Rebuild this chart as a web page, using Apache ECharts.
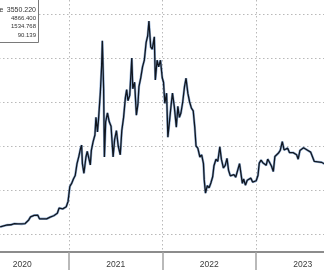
<!DOCTYPE html>
<html>
<head>
<meta charset="utf-8">
<script src="https://cdn.jsdelivr.net/npm/echarts@6/dist/echarts.min.js"></script>
<style>
html,body{margin:0;padding:0;background:#fff;}
#c{width:324px;height:270px;}
</style>
</head>
<body>
<div id="c"></div>
<script>
// ---- data ----
const dates = [
'2020-04-06','2020-04-13','2020-04-20','2020-04-27','2020-05-04','2020-05-11','2020-05-18','2020-05-25',
'2020-06-01','2020-06-08','2020-06-15','2020-06-22','2020-06-29','2020-07-06','2020-07-13','2020-07-20',
'2020-07-27','2020-08-03','2020-08-10','2020-08-17','2020-08-24','2020-08-31','2020-09-07','2020-09-14',
'2020-09-21','2020-09-28','2020-10-05','2020-10-12','2020-10-19','2020-10-26','2020-11-02','2020-11-09',
'2020-11-16','2020-11-23','2020-11-30','2020-12-07','2020-12-14','2020-12-21','2020-12-28',
'2021-01-04','2021-01-11','2021-01-18','2021-01-25','2021-02-01','2021-02-08','2021-02-15','2021-02-19',
'2021-02-22','2021-02-28','2021-03-08','2021-03-13','2021-03-22','2021-03-25','2021-03-29','2021-04-05',
'2021-04-12','2021-04-16','2021-04-22','2021-04-26','2021-05-03','2021-05-08','2021-05-11','2021-05-16',
'2021-05-19','2021-05-24','2021-05-31','2021-06-07','2021-06-14','2021-06-22','2021-06-28','2021-07-05',
'2021-07-12','2021-07-20','2021-07-26','2021-08-02','2021-08-09','2021-08-14','2021-08-19','2021-08-26',
'2021-09-03','2021-09-07','2021-09-14','2021-09-21','2021-09-27','2021-10-01','2021-10-08','2021-10-15',
'2021-10-22','2021-10-29','2021-11-04','2021-11-09','2021-11-16','2021-11-22','2021-11-30','2021-12-04',
'2021-12-11','2021-12-17','2021-12-24','2021-12-31',
'2022-01-05','2022-01-10','2022-01-17','2022-01-22','2022-01-29','2022-02-04','2022-02-09','2022-02-16',
'2022-02-24','2022-03-02','2022-03-08','2022-03-14','2022-03-21','2022-03-28','2022-04-03','2022-04-10',
'2022-04-17','2022-04-24','2022-05-01','2022-05-07','2022-05-12','2022-05-19','2022-05-27','2022-06-03',
'2022-06-10','2022-06-13','2022-06-18','2022-06-25','2022-07-02','2022-07-09','2022-07-16','2022-07-21',
'2022-07-29','2022-08-05','2022-08-13','2022-08-19','2022-08-27','2022-09-03','2022-09-10','2022-09-16',
'2022-09-23','2022-09-30','2022-10-07','2022-10-14','2022-10-21','2022-10-29','2022-11-05','2022-11-09',
'2022-11-14','2022-11-21','2022-11-28','2022-12-05','2022-12-12','2022-12-19','2022-12-26',
'2023-01-02','2023-01-09','2023-01-14','2023-01-21','2023-01-28','2023-02-04','2023-02-10','2023-02-16',
'2023-02-24','2023-03-03','2023-03-10','2023-03-16','2023-03-23','2023-03-30','2023-04-06','2023-04-14',
'2023-04-21','2023-04-28','2023-05-05','2023-05-12','2023-05-19','2023-05-26','2023-06-02','2023-06-09',
'2023-06-15','2023-06-22','2023-06-29','2023-07-06','2023-07-13','2023-07-20','2023-07-27','2023-08-03',
'2023-08-10','2023-08-17','2023-08-24','2023-08-31','2023-09-07','2023-09-14','2023-09-21','2023-09-27'
];
const prices = [
160,165,185,200,205,195,210,205,
235,240,230,235,228,240,238,265,
320,390,395,425,395,430,345,370,
345,355,345,370,385,390,415,460,
470,590,580,570,590,620,740,
1080,1150,1250,1330,1600,1760,1950,2020,
1600,1380,1750,1880,1650,1570,1900,2100,
2250,2650,2320,2600,3200,3800,4390,3300,
1750,2550,2750,2550,2450,1750,2150,2350,
2000,1800,2350,2650,3100,3280,3030,3150,
4000,3300,3450,2700,2950,3350,3550,3800,
3950,4350,4500,4840,4250,4200,4480,3500,
3950,3800,3950,3550,
3450,2970,3200,2200,2600,2950,3200,2900,
2430,2900,2650,2750,3000,3350,3540,3200,
3000,2860,2800,2430,2000,1950,1750,1800,
1600,1230,930,1100,1050,1160,1300,1550,
1700,1650,1980,1700,1500,1560,1720,1450,
1320,1340,1350,1290,1280,1600,1640,1150,
1250,1110,1220,1260,1270,1180,1210,
1210,1330,1610,1680,1620,1660,1560,1700,
1620,1540,1420,1760,1800,1840,1900,2100,
1910,1930,1950,1850,1860,1850,1880,1800,
1700,1900,1880,1960,1990,1910,1880,1860,
1850,1650,1660,1640,1620,1630,1600,1590
];
const yearLabels = ['2020','2021','2022','2023'];
const legendValues = ['3550.220','4866.400','1534.768','90.139'];
const legendFirstLabel = 'Last Price';

// ---- build ----
function fracYear(s){
  const [y,m,d] = s.split('-').map(Number);
  const t = Date.UTC(y,m-1,d), a = Date.UTC(y,0,1), b = Date.UTC(y+1,0,1);
  return y + (t-a)/(b-a);
}
const seriesData = dates.map((d,i)=>[fracYear(d), prices[i]]);

const dotted = {color:'#b9b9b9', width:1, type:[1.5,2.5]};
const chart = echarts.init(document.getElementById('c'), null, {renderer:'canvas'});
chart.setOption({
  backgroundColor:'#ffffff',
  animation:false,
  grid:[
    {left:-1, width:327, top:14, bottom:36, outerBoundsMode:'none', containLabel:false},
    {left:-24.4, width:374, top:0, bottom:18, outerBoundsMode:'none', containLabel:false},
    {left:22.3, width:374, top:0, bottom:18, outerBoundsMode:'none', containLabel:false}
  ],
  xAxis:[
    {gridIndex:0, type:'value', min:2020.25, max:2023.75, show:false},
    {gridIndex:1, type:'value', min:2020, max:2024, interval:1,
      axisLine:{show:true, lineStyle:{color:'#8c8c8c', width:2}},
      axisTick:{show:true, length:18, lineStyle:{color:'#a3a3a3', width:1.5}},
      axisLabel:{show:false},
      splitLine:{show:true, lineStyle:dotted}},
    {gridIndex:1, type:'value', min:2020, max:2024, interval:0.25,
      axisLine:{show:false},
      axisTick:{show:true, length:3, lineStyle:{color:'#8c8c8c', width:1}},
      axisLabel:{show:false}, splitLine:{show:false}},
    {gridIndex:2, type:'value', min:2020, max:2024, interval:1,
      axisLine:{show:false}, axisTick:{show:false}, splitLine:{show:false},
      axisLabel:{show:true, margin:8, fontSize:8.5, color:'#3a3a3a', fontFamily:'Liberation Sans',
        showMaxLabel:false,
        formatter:function(v){ const i = Math.round(v)-2020; return yearLabels[i] || ''; }}}
  ],
  yAxis:[
    {gridIndex:0, type:'value', min:0, max:5000, interval:1000,
      axisLine:{show:false}, axisTick:{show:false}, axisLabel:{show:false},
      splitLine:{show:true, lineStyle:dotted}},
    {gridIndex:1, type:'value', show:false},
    {gridIndex:2, type:'value', show:false}
  ],
  series:[
    {type:'line', xAxisIndex:0, yAxisIndex:0, data:seriesData, showSymbol:false, silent:true,
      lineStyle:{color:'#3a6db0', width:2.4, opacity:0.55}, z:2},
    {type:'line', xAxisIndex:0, yAxisIndex:0, data:seriesData, showSymbol:false, silent:true,
      lineStyle:{color:'#10161f', width:1.3}, z:3}
  ],
  graphic:[
    {type:'rect', shape:{x:-5, y:-5, width:43.5, height:47.5}, style:{fill:'#ffffff', stroke:'#7a7a7a', lineWidth:1}, z:10},
    {type:'text', z:11, style:{text:legendFirstLabel, x:3.5, y:10, textAlign:'right', textVerticalAlign:'middle', font:'7px Liberation Sans', fill:'#333'}},
    {type:'text', z:11, style:{text:legendValues[0], x:36, y:10, textAlign:'right', textVerticalAlign:'middle', font:'7px Liberation Sans', fill:'#333'}},
    {type:'text', z:11, style:{text:legendValues[1], x:36, y:18.5, textAlign:'right', textVerticalAlign:'middle', font:'6px Liberation Sans', fill:'#333'}},
    {type:'text', z:11, style:{text:legendValues[2], x:36, y:26.8, textAlign:'right', textVerticalAlign:'middle', font:'6px Liberation Sans', fill:'#333'}},
    {type:'text', z:11, style:{text:legendValues[3], x:36, y:35, textAlign:'right', textVerticalAlign:'middle', font:'6px Liberation Sans', fill:'#333'}}
  ]
});
</script>
</body>
</html>
